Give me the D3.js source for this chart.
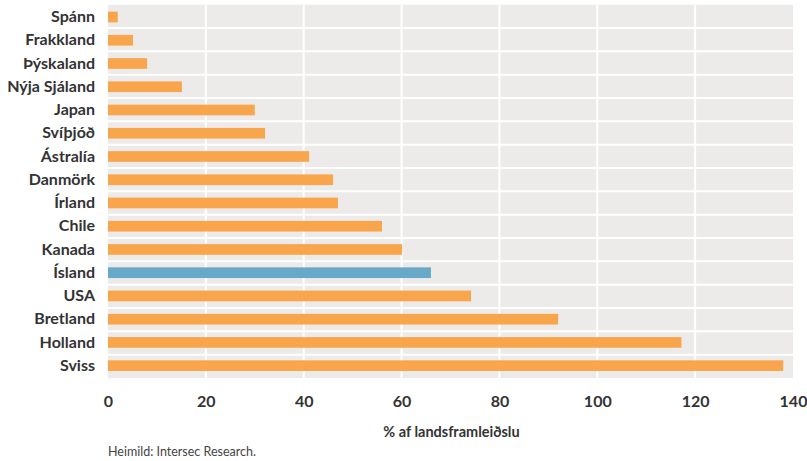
<!DOCTYPE html>
<html>
<head>
<meta charset="utf-8">
<script src="https://cdn.jsdelivr.net/npm/d3@7"></script>
<style>
  body { margin: 0; background: #fff; }
  svg text { font-family: Lato, "DejaVu Sans Condensed", sans-serif; }
</style>
</head>
<body>
<svg id="chart" width="807" height="461"></svg>
<script>
// Útgjöld til lífeyrissjóða, % af landsframleiðslu
const countries = ["Spánn", "Frakkland", "Þýskaland", "Nýja Sjáland", "Japan", "Svíþjóð", "Ástralía",
  "Danmörk", "Írland", "Chile", "Kanada", "Ísland", "USA", "Bretland", "Holland", "Sviss"];
const values = [2, 5.1, 8, 15.1, 30, 32.1, 41.1, 46, 47, 56, 60.1, 66, 74.2, 92, 117.2, 138];
const highlighted = ["Ísland"];
const xTicks = [0, 20, 40, 60, 80, 100, 120, 140];
const xTitle = "% af landsframleiðslu";
const source = "Heimild: Intersec Research.";

const svg = d3.select("#chart");
const margin = { left: 108, right: 14, top: 4.7, bottom: 83 };
const W = 807, H = 461;
const plotW = W - margin.left - margin.right;
const plotH = H - margin.top - margin.bottom;

const x = d3.scaleLinear().domain([0, 140]).range([0, plotW]);
const y = d3.scaleBand().domain(countries).range([0, plotH]).paddingInner(0.54).paddingOuter(0.3);

const g = svg.append("g").attr("transform", `translate(${margin.left},${margin.top})`);

// panel background
g.append("rect").attr("width", plotW).attr("height", plotH).attr("fill", "#ecebea");

// horizontal separators between rows
g.selectAll("line.sep").data(d3.range(1, countries.length)).join("line")
  .attr("class", "sep")
  .attr("x1", 0).attr("x2", plotW)
  .attr("y1", i => i * plotH / countries.length)
  .attr("y2", i => i * plotH / countries.length)
  .attr("stroke", "#fff").attr("stroke-width", 2);

// vertical gridlines
g.selectAll("line.grid").data(xTicks.slice(1, -1)).join("line")
  .attr("class", "grid")
  .attr("x1", d => x(d)).attr("x2", d => x(d))
  .attr("y1", 0).attr("y2", plotH)
  .attr("stroke", "#fff").attr("stroke-width", 2);

// bars
g.selectAll("rect.bar").data(countries).join("rect")
  .attr("class", "bar")
  .attr("x", 0)
  .attr("y", d => y(d))
  .attr("width", (d, i) => x(values[i]))
  .attr("height", y.bandwidth())
  .attr("fill", d => highlighted.includes(d) ? "#67a9c6" : "#f9a54b");

// category axis
const yAxis = g.append("g").call(d3.axisLeft(y).tickSize(0).tickPadding(13));
yAxis.select(".domain").remove();
yAxis.selectAll("text")
  .attr("font-size", 16).attr("font-weight", "bold").attr("fill", "#333");

// value axis
const xAxis = g.append("g").attr("transform", `translate(0,${plotH})`)
  .call(d3.axisBottom(x).tickValues(xTicks).tickSize(0).tickPadding(18));
xAxis.select(".domain").remove();
xAxis.selectAll("text")
  .attr("font-size", 16).attr("font-weight", "bold").attr("fill", "#333");

// axis title
svg.append("text")
  .attr("x", margin.left + x(70) + 1).attr("y", 437)
  .attr("text-anchor", "middle")
  .attr("font-size", 14.5).attr("font-weight", "bold").attr("fill", "#333")
  .text(xTitle);

// source
svg.append("text")
  .attr("x", 108).attr("y", 456)
  .attr("font-size", 12.5).attr("fill", "#444")
  .text(source);
</script>
</body>
</html>
